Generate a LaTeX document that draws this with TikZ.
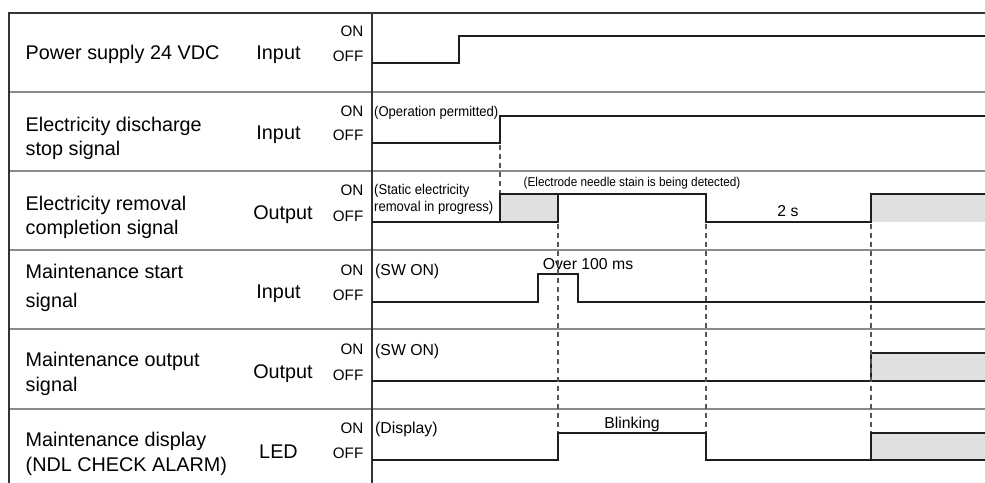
\documentclass[tikz,border=0pt]{standalone}
\usepackage{fontspec}
\setmainfont{Liberation Sans}
\newfontfamily\narrowfont{Liberation Sans}[FakeStretch=0.92]
\definecolor{sigc}{HTML}{1E1E1E}
\definecolor{framec}{HTML}{333333}
\definecolor{sepc}{HTML}{8A8A8A}
\definecolor{guidec}{HTML}{555555}
\definecolor{shadec}{HTML}{E0E0E0}
\begin{document}
\begin{tikzpicture}[x=1pt,y=-1pt,
  lbl/.style={inner sep=0pt,anchor=base west,font=\fontsize{19.8}{23}\selectfont},
  io/.style={inner sep=0pt,anchor=base,font=\fontsize{19.8}{23}\selectfont},
  lvl/.style={inner sep=0pt,anchor=base east,font=\fontsize{15.2}{18}\selectfont},
  note/.style={inner sep=0pt,anchor=base west,font=\fontsize{15.8}{18}\selectfont},
  cnote/.style={inner sep=0pt,anchor=base,font=\fontsize{15.8}{18}\selectfont},
  small/.style={inner sep=0pt,anchor=base west,font=\narrowfont\fontsize{14.2}{16}\selectfont},
  tiny/.style={inner sep=0pt,anchor=base,font=\narrowfont\fontsize{12.8}{15}\selectfont},
  sig/.style={line width=2.6pt,draw=sigc,line join=miter},
  frame/.style={line width=1.2pt,draw=framec},
  sep/.style={line width=1.5pt,draw=sepc},
  guide/.style={line width=1.1pt,draw=guidec,dash pattern=on 5pt off 4pt},
  shade/.style={fill=shadec}
]
\useasboundingbox (0,0) rectangle (985,482);
\fill[white] (0,0) rectangle (985,482);

% ---- shaded regions ----
\fill[shade] (500,194) rectangle (558,222);
\fill[shade] (871,194) rectangle (986,222);
\fill[shade] (871,353) rectangle (986,381);
\fill[shade] (871,433) rectangle (986,460);

% ---- table ----
\foreach \yy in {92,171,250,329,409} \draw[sep] (9,\yy) -- (986,\yy);
\draw[frame] (986,13) -- (9,13) -- (9,483);
\draw[frame] (372,13) -- (372,483);

% ---- row labels ----
\node[lbl] (n1) at (25.5,59.3) {Power supply 24 VDC};
\node[io] (io1) at (278.5,59.3) {Input};
\node[lvl] (on1) at (363.5,36) {ON};
\node[lvl] (off1) at (363.5,61.7) {OFF};

\node[lbl] (n2a) at (25.5,131.7) {Electricity discharge};
\node[lbl] (n2b) at (25.5,155) {stop signal};
\node[io] (io2) at (278.5,139.3) {Input};
\node[lvl] (on2) at (363.5,116.7) {ON};
\node[lvl] (off2) at (363.5,140.7) {OFF};

\node[lbl] (n3a) at (25.5,210) {Electricity removal};
\node[lbl] (n3b) at (25.5,234) {completion signal};
\node[io] (io3) at (283,219.3) {Output};
\node[lvl] (on3) at (363.5,195) {ON};
\node[lvl] (off3) at (363.5,221) {OFF};

\node[lbl] (n4a) at (25.5,278.3) {Maintenance start};
\node[lbl] (n4b) at (25.5,307.3) {signal};
\node[io] (io4) at (278.5,298.3) {Input};
\node[lvl] (on4) at (363.5,275) {ON};
\node[lvl] (off4) at (363.5,300) {OFF};

\node[lbl] (n5a) at (25.5,366.7) {Maintenance output};
\node[lbl] (n5b) at (25.5,391) {signal};
\node[io] (io5) at (283,378.3) {Output};
\node[lvl] (on5) at (363.5,354.3) {ON};
\node[lvl] (off5) at (363.5,380) {OFF};

\node[lbl] (n6a) at (25.5,446.7) {Maintenance display};
\node[lbl] (n6b) at (25.5,471.7) {(NDL CHECK ALARM)};
\node[io] (io6) at (278.5,458.3) {LED};
\node[lvl] (on6) at (363.5,433.3) {ON};
\node[lvl] (off6) at (363.5,458.3) {OFF};

% ---- annotations ----
\node[small] (a2) at (374,116.7) {(Operation permitted)};
\node[small] (a3a) at (374,194) {(Static electricity};
\node[small] (a3b) at (374,211.7) {removal in progress)};
\node[tiny] (a3c) at (632,186.7) {(Electrode needle stain is being detected)};
\node[cnote] (a3d) at (788,216.7) {2 s};
\node[note] (a4) at (375,275) {(SW ON)};
\node[cnote] (a4b) at (588,269.3) {Over 100 ms};
\node[note] (a5) at (375,355) {(SW ON)};
\node[note] (a6) at (375,433.3) {(Display)};
\node[cnote] (a6b) at (632,428.3) {Blinking};

% ---- signals ----
\draw[sig] (372,63) -- (459,63) -- (459,36) -- (986,36);
\draw[sig] (372,143) -- (500,143) -- (500,116) -- (986,116);
\draw[sig] (372,222) -- (500,222) -- (500,194) -- (706,194) -- (706,222) -- (871,222) -- (871,194) -- (986,194);
\draw[sig] (500,222) -- (558,222) -- (558,194);
\draw[sig] (372,302) -- (538,302) -- (538,274) -- (578,274) -- (578,302) -- (986,302);
\draw[sig] (372,381) -- (871,381) -- (871,353) -- (986,353);
\draw[sig] (871,381) -- (986,381);
\draw[sig] (372,460) -- (558,460) -- (558,433) -- (706,433) -- (706,460) -- (871,460) -- (871,433) -- (986,433);
\draw[sig] (871,460) -- (986,460);

% ---- timing guides ----
\coordinate (g1s) at (500,144.5);
\coordinate (g1e) at (500,193);
\coordinate (g2s) at (558,223.5);
\coordinate (g2e) at (558,432);
\coordinate (g3s) at (706,223.5);
\coordinate (g3e) at (706,432);
\coordinate (g4s) at (871,223.5);
\coordinate (g4e) at (871,432);
\draw[guide] (g1s) -- (g1e);
\draw[guide] (g2s) -- (g2e);
\draw[guide] (g3s) -- (g3e);
\draw[guide] (g4s) -- (g4e);
\end{tikzpicture}
\end{document}
